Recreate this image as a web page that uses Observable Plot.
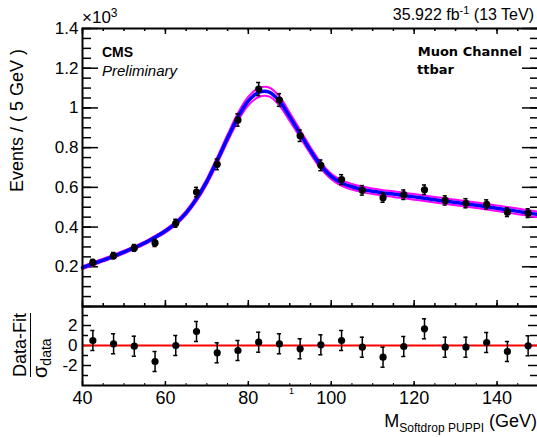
<!DOCTYPE html>
<html>
<head>
<meta charset="utf-8">
<script src="https://cdn.jsdelivr.net/npm/d3@7"></script>
<script src="https://cdn.jsdelivr.net/npm/@observablehq/plot@0.6"></script>
<style>
  html, body { margin: 0; padding: 0; background: white; }
  #wrap { position: relative; width: 537px; height: 437px; overflow: hidden; font-family: "Liberation Sans", Arial, sans-serif; color: black; }
  #wrap svg { position: absolute; left: 0; }
  .lbl { position: absolute; white-space: nowrap; line-height: 1; }
</style>
</head>
<body>
<div id="wrap">
  <div class="lbl" style="left:82px; top:7px; font-size:17px;">×10<sup style="font-size:12px; vertical-align:6px;">3</sup></div>
  <div class="lbl" style="right:3px; top:5px; font-size:16px;">35.922 fb<sup style="font-size:11px; vertical-align:6px;">-1</sup> (13 TeV)</div>
  <div class="lbl" style="left:102px; top:45px; font-size:14px; font-weight:bold;">CMS</div>
  <div class="lbl" style="left:102px; top:63px; font-size:15px; font-style:italic;">Preliminary</div>
  <div class="lbl" style="right:15px; top:45px; font-size:13px; font-weight:bold; font-family:'DejaVu Sans';">Muon Channel</div>
  <div class="lbl" style="left:417px; top:63px; font-size:13px; font-weight:bold; font-family:'DejaVu Sans';">ttbar</div>
  <div class="lbl" style="left:8px; top:30px; font-size:18px; transform-origin: 0 0; transform: translate(0px, 162px) rotate(-90deg);">Events / ( 5 GeV )</div>
  <div class="lbl" style="left:11px; top:313px; font-size:18px; transform-origin: 0 0; transform: translate(0px, 64px) rotate(-90deg); text-align:center;">
    <span style="display:inline-block; border-bottom:1.5px solid black; padding-bottom:1px;">Data-Fit</span>
  </div>
  <div class="lbl" style="left:30px; top:327px; font-size:20px; transform-origin: 0 0; transform: translate(0px, 51px) rotate(-90deg);">σ<sub style="font-size:14px; vertical-align:-4px;">data</sub></div>
  <div class="lbl" style="left:289px; top:387px; font-size:9px;">1</div>
  <div class="lbl" style="right:0px; top:412px; font-size:18px;">M<sub style="font-size:12px; vertical-align:-5px;">Softdrop PUPPI</sub> (GeV)</div>
</div>
<script>
// Bin centres (GeV)
const massBins = [42.5, 47.5, 52.5, 57.5, 62.5, 67.5, 72.5, 77.5, 82.5, 87.5, 92.5,
                  97.5, 102.5, 107.5, 112.5, 117.5, 122.5, 127.5, 132.5, 137.5, 142.5, 147.5];
// Data: events per 5 GeV
const dataEvents = [222, 256, 295, 320, 419, 576, 716, 939, 1095, 1040, 860,
                    711, 639, 585, 548, 563, 588, 534, 520, 514, 475, 470];
const dataErrors = [15, 16, 17, 18, 20, 24, 27, 31, 33, 32, 29,
                    27, 25, 24, 23, 24, 24, 23, 23, 23, 22, 22];
// Pulls (Data-Fit)/sigma
const pulls = [0.5, 0.17, -0.07, -1.6, 0.0, 1.4, -0.73, -0.5, 0.33, 0.17, -0.33,
               0.07, 0.5, -0.17, -1.17, -0.1, 1.67, -0.17, -0.17, 0.3, -0.6, -0.03];
const pullErrors = [1, 1, 1, 1, 1, 1, 1, 1, 1, 1, 1, 1, 1, 1, 1, 1, 1, 1, 1, 1, 1, 1];

// Fit curve samples
const fitMass = [40, 42.5, 45, 47.5, 50, 52.5, 55, 57.5, 60, 62.5, 65, 67.5, 70, 72.5, 75, 77.5,
                 80, 82.5, 85, 87.5, 90, 92.5, 95, 97.5, 100, 102.5, 105, 107.5, 110, 112.5,
                 115, 117.5, 120, 122.5, 125, 127.5, 130, 132.5, 135, 137.5, 140, 142.5, 145, 147.5, 150];
const fitCentral = [196, 215, 234, 253, 274, 296, 320, 349, 380, 419, 472, 542, 630, 736, 848, 954,
                    1035, 1078, 1080, 1035, 955, 870, 785, 709, 655, 622, 603, 590, 580, 572,
                    566, 559, 552, 545, 538, 531, 524, 517, 510, 502, 495, 487, 479, 471, 463];
const fitUp = [203, 222, 241, 260, 281, 303, 327, 356, 388, 428, 482, 554, 644, 752, 866, 974,
               1057, 1100, 1103, 1058, 976, 889, 802, 724, 669, 636, 617, 604, 594, 586,
               580, 573, 566, 559, 552, 545, 538, 531, 524, 516, 509, 501, 493, 485, 477];
const fitDown = [189, 208, 227, 246, 267, 289, 313, 342, 372, 410, 462, 530, 616, 720, 830, 934,
                 1013, 1055, 1058, 1012, 934, 851, 768, 694, 641, 608, 589, 576, 566, 558,
                 552, 545, 538, 531, 524, 517, 510, 503, 496, 488, 481, 473, 465, 457, 449];

// Axis ticks
const yMainTicks = [200, 400, 600, 800, 1000, 1200, 1400];
const yMainTickLabels = ["0.2", "0.4", "0.6", "0.8", "1", "1.2", "1.4"];
const yMainMinor = d3.range(0, 1401, 50);
const xMajor = [40, 60, 80, 100, 120, 140];
const xMajorLabels = ["40", "60", "80", "100", "120", "140"];
const xMinor = d3.range(40, 151, 5);
const yPullTicks = [-2, 0, 2];
const yPullTickLabels = ["-2", "0", "2"];
const yPullMinor = [-3, -1, 1, 3];

const data = massBins.map((m, i) => ({m, n: dataEvents[i], e: dataErrors[i], p: pulls[i], pe: pullErrors[i]}));
const fit = fitMass.map((m, i) => ({m, c: fitCentral[i], u: fitUp[i], d: fitDown[i]}));

const FONT = "Liberation Sans, Arial, sans-serif";
const W = 537, ML = 82, MR = -1;
const FW = W - ML - MR; // frame width in px

const main = Plot.plot({
  width: W, height: 306, marginLeft: ML, marginRight: MR, marginTop: 28, marginBottom: 0,
  style: {fontFamily: FONT, fontSize: "17px", overflow: "visible", background: "transparent"},
  x: {domain: [40, 150], axis: null},
  y: {domain: [0, 1400], axis: null},
  marks: [
    Plot.ruleY(yMainMinor, {insetRight: FW - 9, stroke: "black", strokeWidth: 1.5}),
    Plot.ruleY(yMainTicks, {insetRight: FW - 16, stroke: "black", strokeWidth: 1.5}),
    Plot.ruleY(yMainMinor, {insetLeft: FW - 8, stroke: "black", strokeWidth: 1.5}),
    Plot.ruleY(yMainTicks, {insetLeft: FW - 16, stroke: "black", strokeWidth: 1.5}),
    Plot.ruleX(xMinor, {insetBottom: 278 - 3, stroke: "black", strokeWidth: 1.5}),
    Plot.ruleX(xMajor, {insetBottom: 278 - 6, stroke: "black", strokeWidth: 1.5}),
    Plot.ruleX(xMinor, {insetTop: 278 - 3, stroke: "black", strokeWidth: 1.5}),
    Plot.ruleX(xMajor, {insetTop: 278 - 6, stroke: "black", strokeWidth: 1.5}),
    Plot.axisY(yMainTicks, {anchor: "left", tickSize: 0, tickPadding: 4, tickFormat: (d, i) => yMainTickLabels[i], fontSize: 17, label: null}),
    Plot.line(fit, {x: "m", y: "u", stroke: "#ff00ff", strokeWidth: 2, curve: "catmull-rom"}),
    Plot.line(fit, {x: "m", y: "d", stroke: "#ff00ff", strokeWidth: 2, curve: "catmull-rom"}),
    Plot.line(fit, {x: "m", y: "c", stroke: "#0000ff", strokeWidth: 3.5, curve: "catmull-rom"}),
    Plot.ruleX(data, {x: "m", y1: d => d.n - d.e, y2: d => d.n + d.e, stroke: "black", strokeWidth: 1.5}),
    Plot.ruleY(data, {y: d => d.n - d.e, x1: d => d.m - 0.5, x2: d => d.m + 0.5, stroke: "black", strokeWidth: 1.5}),
    Plot.ruleY(data, {y: d => d.n + d.e, x1: d => d.m - 0.5, x2: d => d.m + 0.5, stroke: "black", strokeWidth: 1.5}),
    Plot.dot(data, {x: "m", y: "n", r: 3.6, fill: "black", stroke: "none"}),
    Plot.frame({stroke: "black", strokeWidth: 2})
  ]
});
main.style.top = "0px";
document.getElementById("wrap").appendChild(main);

const pullPlot = Plot.plot({
  width: W, height: 131, marginLeft: ML, marginRight: MR, marginTop: 0, marginBottom: 52,
  style: {fontFamily: FONT, fontSize: "17px", overflow: "visible", background: "transparent"},
  x: {domain: [40, 150], axis: null},
  y: {domain: [-4, 3.9], axis: null},
  marks: [
    Plot.ruleY(yPullMinor, {insetRight: FW - 6, stroke: "black", strokeWidth: 1.5}),
    Plot.ruleY(yPullTicks, {insetRight: FW - 9, stroke: "black", strokeWidth: 1.5}),
    Plot.ruleY(yPullMinor, {insetLeft: FW - 8, stroke: "black", strokeWidth: 1.5}),
    Plot.ruleY(yPullTicks, {insetLeft: FW - 10, stroke: "black", strokeWidth: 1.5}),
    Plot.ruleX(xMinor, {insetTop: 79 - 2, stroke: "black", strokeWidth: 1}),
    Plot.ruleX(xMajor, {insetTop: 79 - 4, stroke: "black", strokeWidth: 1.5}),
    Plot.axisY(yPullTicks, {anchor: "left", tickSize: 0, tickPadding: 5, tickFormat: (d, i) => yPullTickLabels[i], fontSize: 17, label: null}),
    Plot.axisX(xMajor, {anchor: "bottom", tickSize: 0, tickPadding: 6, tickFormat: (d, i) => xMajorLabels[i], fontSize: 18, label: null}),
    Plot.ruleY([0], {stroke: "#ff0000", strokeWidth: 2}),
    Plot.ruleX(data, {x: "m", y1: d => d.p - d.pe, y2: d => d.p + d.pe, stroke: "black", strokeWidth: 1.5}),
    Plot.ruleY(data, {y: d => d.p - d.pe, x1: d => d.m - 0.5, x2: d => d.m + 0.5, stroke: "black", strokeWidth: 1.5}),
    Plot.ruleY(data, {y: d => d.p + d.pe, x1: d => d.m - 0.5, x2: d => d.m + 0.5, stroke: "black", strokeWidth: 1.5}),
    Plot.dot(data, {x: "m", y: "p", r: 3.6, fill: "black", stroke: "none"}),
    Plot.frame({stroke: "black", strokeWidth: 2})
  ]
});
pullPlot.style.top = "306px";
document.getElementById("wrap").appendChild(pullPlot);
</script>
</body>
</html>
